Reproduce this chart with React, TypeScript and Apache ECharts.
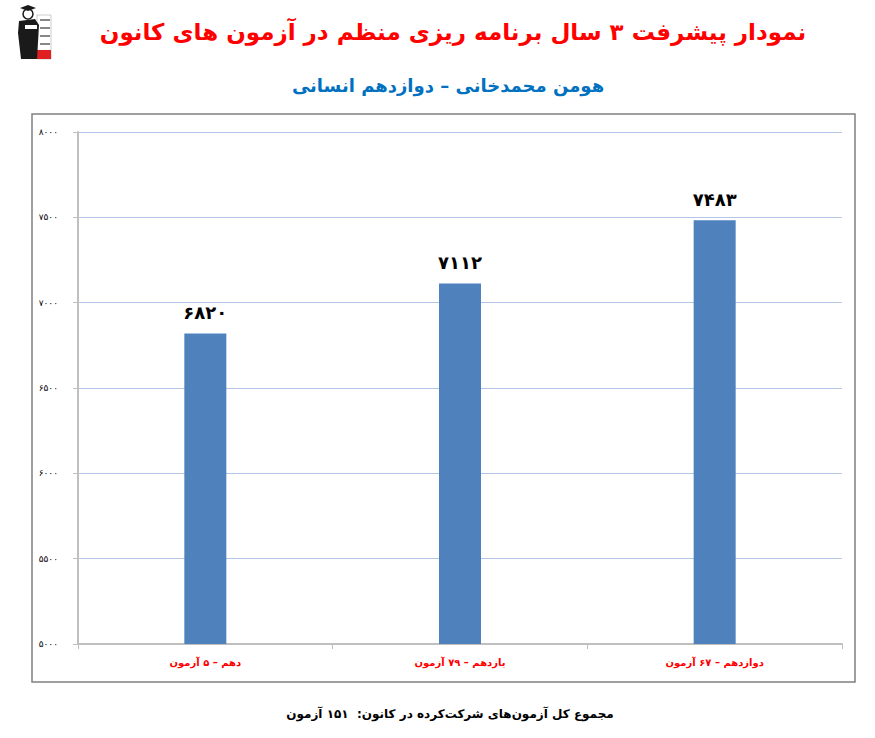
import React, { useEffect, useRef } from "react";
import * as echarts from "echarts";

const categories = ["دهم – ۵ آزمون", "یازدهم – ۷۹ آزمون", "دوازدهم – ۶۷ آزمون"];
const values = [6820, 7112, 7483];
const yMin = 5000;
const yMax = 8000;
const yStep = 500;
const titleText = "نمودار پیشرفت ۳ سال برنامه ریزی منظم در آزمون های کانون";
const subtitleText = "هومن محمدخانی – دوازدهم انسانی";
const footerText = "مجموع کل آزمون‌های شرکت‌کرده در کانون:  ۱۵۱ آزمون";

const faDigits = "۰۱۲۳۴۵۶۷۸۹";
const toFa = (v: number | string) => String(v).replace(/[0-9]/g, (d) => faDigits[+d]);

const FONT = "'DejaVu Sans', 'Noto Sans', sans-serif";

export default function App() {
  const ref = useRef<HTMLDivElement>(null);
  useEffect(() => {
    if (!ref.current) return;
    const chart = echarts.init(ref.current, null, { renderer: "svg" });
    chart.setOption({
      animation: false,
      backgroundColor: "#ffffff",
      title: [
        {
          text: titleText,
          left: 448,
          top: 15,
          textAlign: "center",
          textStyle: { color: "#ff0000", fontSize: 23, fontWeight: "bold", fontFamily: FONT },
        },
        {
          text: subtitleText,
          left: 443,
          top: 71,
          textAlign: "center",
          textStyle: { color: "#0070c0", fontSize: 18, fontWeight: "bold", fontFamily: FONT },
        },
        {
          text: footerText,
          left: 445,
          top: 703,
          textAlign: "center",
          textStyle: { color: "#000000", fontSize: 12, fontWeight: "bold", fontFamily: FONT },
        },
      ],
      grid: { left: 78, right: 33, top: 132, bottom: 94, containLabel: false },
      xAxis: {
        type: "category",
        data: categories,
        axisLine: { show: true, lineStyle: { color: "#bfbfbf", width: 2 } },
        axisTick: { show: true, length: 5, lineStyle: { color: "#bfbfbf", width: 1 } },
        axisLabel: { color: "#ff0000", fontSize: 10, fontWeight: "bold", fontFamily: FONT, margin: 13 },
        splitLine: { show: false },
      },
      yAxis: {
        type: "value",
        min: yMin,
        max: yMax,
        interval: yStep,
        axisLine: { show: true, lineStyle: { color: "#bfbfbf", width: 2 } },
        axisTick: { show: true, length: 5, lineStyle: { color: "#bfbfbf", width: 1 } },
        axisLabel: {
          color: "#000000",
          fontSize: 9,
          fontFamily: FONT,
          margin: 20,
          formatter: (v: number) => toFa(v),
        },
        splitLine: { show: true, lineStyle: { color: "#b3c6e7", width: 1.2 } },
      },
      series: [
        {
          type: "bar",
          data: values,
          barWidth: 42,
          itemStyle: { color: "#4f81bd" },
          label: {
            show: true,
            position: "top",
            distance: 12,
            color: "#000000",
            fontSize: 18,
            fontWeight: "bold",
            fontFamily: FONT,
            formatter: (p: any) => toFa(p.value),
          },
        },
      ],
      graphic: [
        {
          type: "rect",
          shape: { x: 32, y: 114, width: 823, height: 568 },
          style: { fill: "none", stroke: "#808080", lineWidth: 1.5 },
          silent: true,
        },
        {
          type: "group",
          left: 18,
          top: 5,
          children: [
            { type: "rect", shape: { x: 22, y: 12, width: 14, height: 44 }, style: { fill: "#ffffff", stroke: "#999", lineWidth: 0.5 } },
            { type: "rect", shape: { x: 25, y: 16, width: 10, height: 2 }, style: { fill: "#888" } },
            { type: "rect", shape: { x: 25, y: 24, width: 10, height: 2 }, style: { fill: "#888" } },
            { type: "rect", shape: { x: 25, y: 32, width: 10, height: 2 }, style: { fill: "#888" } },
            { type: "rect", shape: { x: 25, y: 40, width: 10, height: 2 }, style: { fill: "#888" } },
            { type: "rect", shape: { x: 22, y: 47, width: 14, height: 9 }, style: { fill: "#e02020" } },
            { type: "polygon", shape: { points: [[4, 18], [20, 16], [24, 22], [22, 56], [6, 56], [3, 30]] }, style: { fill: "#1a1a1a" } },
            { type: "circle", shape: { cx: 13, cy: 11, r: 5 }, style: { fill: "#ffffff", stroke: "#1a1a1a", lineWidth: 1.5 } },
            { type: "polygon", shape: { points: [[5, 5], [13, 2], [21, 5], [13, 8]] }, style: { fill: "#1a1a1a" } },
            { type: "rect", shape: { x: 10, y: 22, width: 12, height: 4 }, style: { fill: "#ffffff" } },
          ],
        },
      ],
    });
    return () => chart.dispose();
  }, []);
  return (
    <div
      ref={ref}
      style={{ position: "fixed", left: 0, top: 0, width: 875, height: 738, background: "#fff" }}
    />
  );
}
